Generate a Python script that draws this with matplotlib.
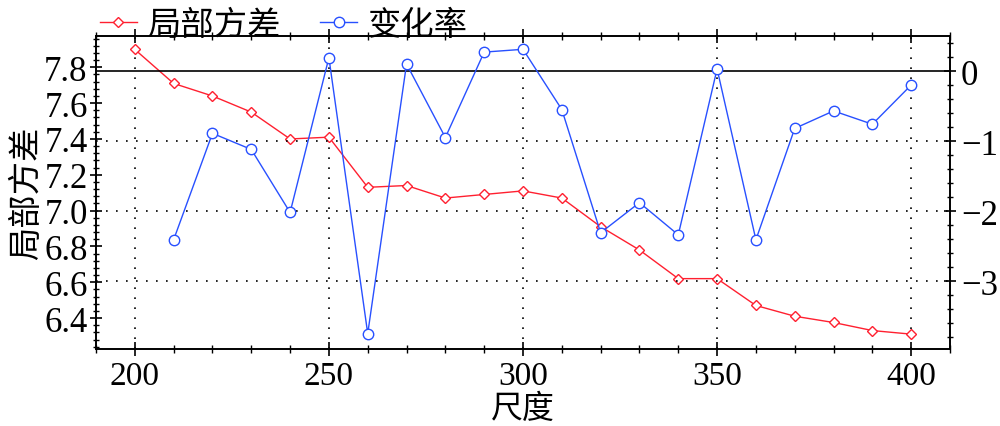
import matplotlib
matplotlib.use('Agg')
import matplotlib.pyplot as plt
from matplotlib.ticker import MultipleLocator

plt.rcParams['font.family'] = ['Liberation Serif', 'Noto Sans CJK SC']
plt.rcParams['axes.unicode_minus'] = True

# data
scale_var = [200, 210, 220, 230, 240, 250, 260, 270, 280, 290, 300,
             310, 320, 330, 340, 350, 360, 370, 380, 390, 400]
local_var = [7.90, 7.71, 7.64, 7.55, 7.40, 7.41, 7.13, 7.14, 7.07, 7.09, 7.11,
             7.07, 6.91, 6.78, 6.62, 6.62, 6.47, 6.41, 6.375, 6.33, 6.31]
scale_rate = [210, 220, 230, 240, 250, 260, 270, 280, 290, 300,
              310, 320, 330, 340, 350, 360, 370, 380, 390, 400]
change_rate = [-2.41, -0.89, -1.12, -2.02, 0.19, -3.75, 0.10, -0.95, 0.27, 0.31,
               -0.55, -2.31, -1.88, -2.34, 0.03, -2.41, -0.82, -0.57, -0.76, -0.20]

fig = plt.figure(figsize=(10, 4.27), dpi=100)
ax = fig.add_axes([0.096, 1 - 350 / 427, 0.854, 313 / 427])
ax2 = ax.twinx()

l1, = ax.plot(scale_var, local_var, color='#ff2030', lw=1.0, marker='D',
              ms=5.5, mfc='white', mec='#ff2030', mew=1.0, label='局部方差')
l2, = ax2.plot(scale_rate, change_rate, color='#2850ff', lw=1.0, marker='o',
               ms=7.5, mfc='white', mec='#2850ff', mew=1.0, label='变化率')

ax.set_xlim(190, 410)
ax.set_ylim(6.227, 7.975)
ax2.set_ylim(-3.97, 0.5)

ax.xaxis.set_major_locator(MultipleLocator(50))
ax.xaxis.set_minor_locator(MultipleLocator(10))
ax.yaxis.set_major_locator(MultipleLocator(0.2))
ax.yaxis.set_minor_locator(MultipleLocator(0.04))
ax2.yaxis.set_major_locator(MultipleLocator(1))
ax2.yaxis.set_minor_locator(MultipleLocator(0.2))

ax.tick_params(axis='x', which='major', direction='inout', length=10, width=1.2,
               top=True, labelsize=24, pad=3)
ax.tick_params(axis='x', which='minor', direction='inout', length=6, width=1,
               top=True)
ax.tick_params(axis='y', which='major', direction='inout', length=8, width=1.2,
               labelsize=25, pad=2)
ax.tick_params(axis='y', which='minor', direction='inout', length=5, width=1)
ax2.tick_params(axis='y', which='major', direction='inout', length=8, width=1.2,
                labelsize=25, pad=4)
ax2.tick_params(axis='y', which='minor', direction='inout', length=5, width=1)

for sp in list(ax.spines.values()) + list(ax2.spines.values()):
    sp.set_linewidth(1.2)

# dotted grid: vertical at x majors, horizontal at right-axis majors
for xv in [200, 250, 300, 350, 400]:
    ax.axvline(xv, color='black', lw=1.2, ls=(0, (1, 5)), zorder=0)
for yv in [-1, -2, -3]:
    ax2.axhline(yv, color='black', lw=1.2, ls=(0, (1, 5)), zorder=0)
ax2.axhline(0, color='black', lw=1.2, zorder=1)

ax.set_xlabel('尺度', fontsize=23, labelpad=2)
ax.set_ylabel('局部方差', fontsize=24, labelpad=1)

fig.legend(handles=[l1, l2], loc='upper left', bbox_to_anchor=(0.07, 1.045),
           ncol=2, frameon=False, fontsize=24, handlelength=1.1,
           handletextpad=0.3, columnspacing=1.2)

fig.savefig('out.png', dpi=100)
